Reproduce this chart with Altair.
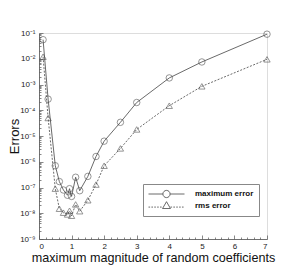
import altair as alt
import pandas as pd

# ---- data ----
x_vals = [0.125, 0.28, 0.5, 0.625, 0.75, 0.875, 0.9375, 1.0, 1.125, 1.25,
          1.5, 1.75, 2.0, 2.5, 3.0, 4.0, 5.0, 7.0]
max_err = [5.5e-2, 2.7e-4, 7e-7, 1.7e-7, 8e-8, 5e-8, 9e-8, 4.5e-8, 2.5e-7, 7.5e-8,
           2.7e-7, 1.6e-6, 6.3e-6, 3.4e-5, 2e-4, 1.8e-3, 7.5e-3, 9e-2]
rms_err = [1.2e-2, 5e-5, 9e-8, 1.5e-8, 1.05e-8, 9e-9, 1.25e-8, 8e-9, 2.2e-8, 1.2e-8,
           3.2e-8, 1.3e-7, 7e-7, 3.3e-6, 1.8e-5, 1.5e-4, 8.5e-4, 9.5e-3]
series_names = ["maximum error", "rms error"]
x_ticks = [0, 1, 2, 3, 4, 5, 6, 7]
y_ticks = [1e-9, 1e-8, 1e-7, 1e-6, 1e-5, 1e-4, 1e-3, 1e-2, 1e-1]

df = pd.DataFrame({
    "x": x_vals + x_vals,
    "err": max_err + rms_err,
    "series": [series_names[0]] * len(x_vals) + [series_names[1]] * len(x_vals),
})

x_minor = [round(i * 0.2, 2) for i in range(36) if i % 5 != 0]
y_minor = [k * 10.0 ** e for e in range(-9, -1) for k in range(2, 10)]

FONT = "Liberation Sans"
INK = "#444444"

xs = alt.Scale(domain=[0, 7], nice=False, zero=False)
ys = alt.Scale(type="log", domain=[1e-9, 1e-1], nice=False)

# legend symbols: line + marker (unit coords, 1 unit = 18 px)
circ_path = ("M-1,0H-0.2A0.2,0.2,0,1,1,0.2,0A0.2,0.2,0,1,1,-0.2,0M0.2,0H1")
def dashed(a, b, y, d=0.09, g=0.07):
    parts = []
    s = a
    while s < b:
        e = min(s + d, b)
        parts.append(f"M{s:.3f},{y}H{e:.3f}")
        s = e + g
    return "".join(parts)
tri_path = ("M0,-0.24L0.22,0.14L-0.22,0.14Z"
            + dashed(-1, -0.22, 0.06) + dashed(0.22, 1, 0.06))

sup = "['⁻⁹','⁻⁸','⁻⁷','⁻⁶','⁻⁵','⁻⁴','⁻³','⁻²','⁻¹']"
ylabel_expr = "'10' + " + sup + "[round(log(datum.value)/LN10)+9]"

base = alt.Chart(df)
max_f = alt.datum.series == series_names[0]
rms_f = alt.datum.series == series_names[1]

def enc(xaxis=None, yaxis=None):
    return dict(
        x=alt.X("x:Q", scale=xs, axis=xaxis),
        y=alt.Y("err:Q", scale=ys, axis=yaxis),
    )

line_max = base.transform_filter(max_f).mark_line(
    color=INK, strokeWidth=0.8).encode(**enc())
line_rms = base.transform_filter(rms_f).mark_line(
    color=INK, strokeWidth=0.8, strokeDash=[2, 1.5]).encode(**enc())
pts_max = base.transform_filter(max_f).mark_point(
    shape="circle", filled=False, size=42, strokeWidth=0.8, color=INK).encode(**enc())
pts_rms = base.transform_filter(rms_f).mark_point(
    shape="triangle-up", filled=False, size=40, strokeWidth=0.8, color=INK).encode(**enc())

main_x = alt.Axis(values=x_ticks, ticks=False, grid=False, labelFont=FONT,
                  labelFontSize=8, labelColor="#222", labelPadding=3,
                  domainColor="#555", domainWidth=0.8,
                  title="maximum magnitude of random coefficients",
                  titleFont=FONT, titleFontSize=12.6, titleFontWeight="normal",
                  titleColor="#111", titlePadding=1, orient="bottom")
main_y = alt.Axis(values=y_ticks, ticks=False, grid=False, labelFont=FONT,
                  labelFontSize=8, labelColor="#222", labelPadding=4,
                  labelExpr=ylabel_expr, domainColor="#555", domainWidth=0.8,
                  title="Errors", titleFont=FONT, titleFontSize=13,
                  titleFontWeight="normal", titleColor="#111",
                  titleX=-18, titleY=103, orient="left")

legend_layer = base.mark_point(opacity=0, size=1296, filled=False).encode(
    **enc(main_x, main_y),
    shape=alt.Shape("series:N",
                    scale=alt.Scale(domain=series_names, range=[circ_path, tri_path]),
                    legend=alt.Legend(
                        title=None, orient="none", legendX=104, legendY=151,
                        direction="vertical", padding=5, rowPadding=2,
                        clipHeight=10, symbolSize=1296, symbolOpacity=1,
                        symbolStrokeColor=INK, symbolFillColor="transparent",
                        symbolStrokeWidth=0.8, labelOffset=10,
                        labelFont=FONT, labelFontSize=8, labelFontWeight="bold",
                        labelColor="#111", labelLimit=200,
                        strokeColor="#888", fillColor="white")),
)

def tick_axis(orient, vals, size):
    return alt.Axis(values=vals, orient=orient, offset=-size, tickSize=size,
                    tickColor="#555", tickWidth=0.7, labels=False, domain=False,
                    grid=False, title=None)

ticks_major = base.mark_point(opacity=0).encode(
    **enc(tick_axis("bottom", x_ticks, 4), tick_axis("left", y_ticks, 4)))
ticks_minor = base.mark_point(opacity=0).encode(
    **enc(tick_axis("bottom", x_minor, 2), tick_axis("left", y_minor, 2)))

chart = alt.layer(
    line_max, line_rms, pts_max, pts_rms, legend_layer, ticks_major, ticks_minor
).resolve_axis(x="independent", y="independent").properties(
    width=228, height=206,
    autosize=alt.AutoSizeParams(type="none"),
    padding={"left": 31, "top": 25, "right": 20, "bottom": 30},
).configure_view(stroke=None).configure(background="white")

chart.save("out.html", embed_options={"renderer": "svg", "actions": False})
